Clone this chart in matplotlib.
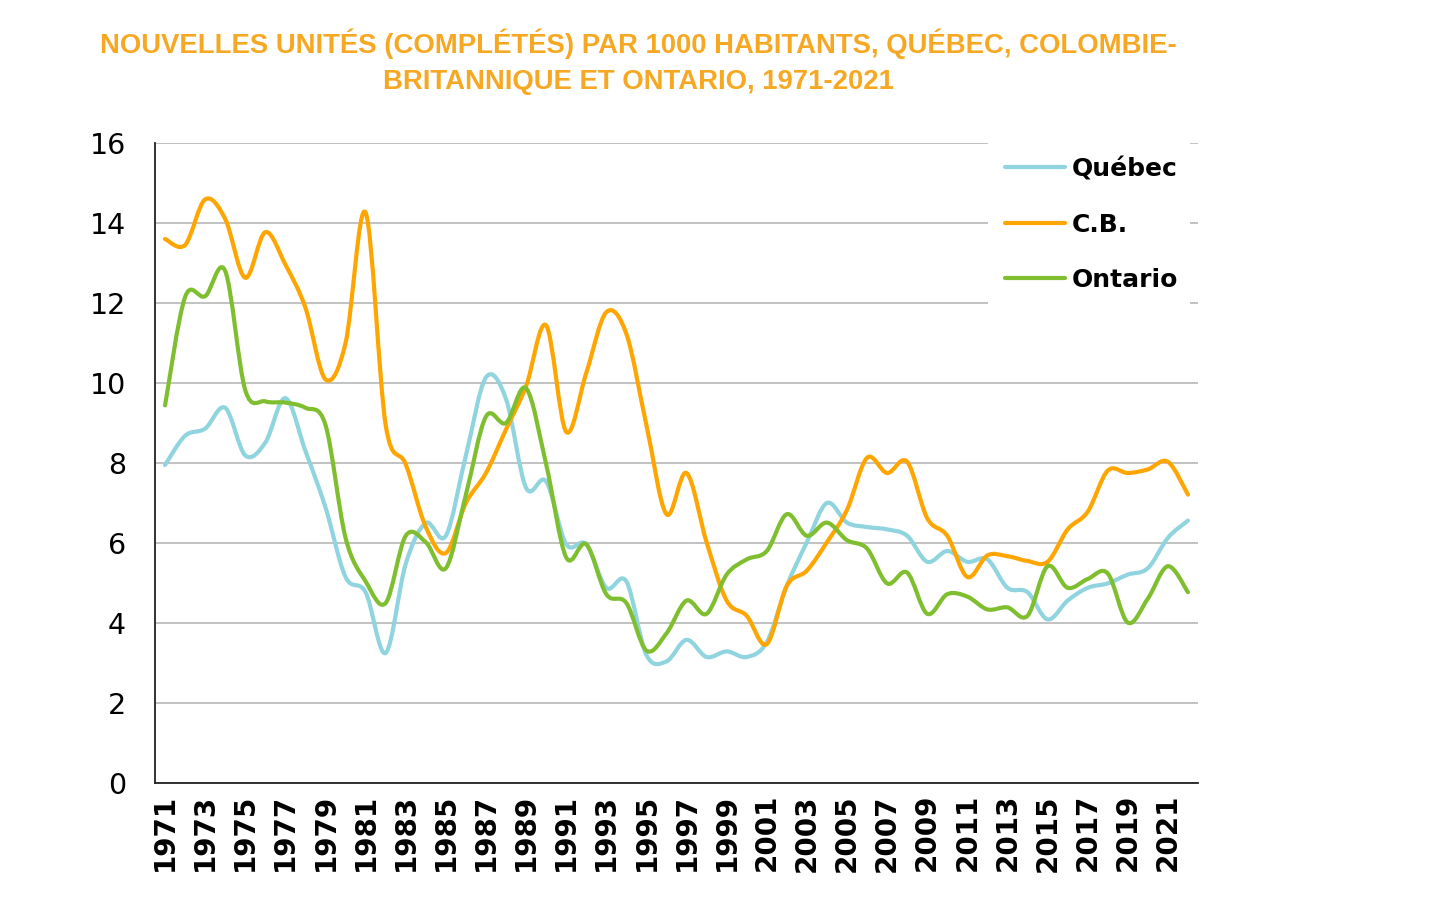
import numpy as np
import matplotlib
matplotlib.use("Agg")
import matplotlib.pyplot as plt
from matplotlib.path import Path
from matplotlib.patches import PathPatch, Rectangle
from matplotlib.lines import Line2D

years = list(range(1971, 2023))

quebec = [7.95, 8.68, 8.86, 9.38, 8.19, 8.51, 9.62, 8.3, 6.89, 5.15,
          4.77, 3.25, 5.48, 6.5, 6.18, 8.19, 10.14, 9.6, 7.38, 7.54,
          5.97, 5.97, 4.88, 5.04, 3.2, 3.04, 3.58, 3.15, 3.29, 3.15,
          3.52, 4.93, 6.02, 7.0, 6.51, 6.4, 6.34, 6.18, 5.53, 5.8,
          5.53, 5.59, 4.88, 4.77, 4.09, 4.56, 4.88, 4.99, 5.21, 5.37,
          6.13, 6.56]

cb = [13.6, 13.45, 14.59, 14.1, 12.63, 13.77, 12.96, 11.88, 10.09, 11.0,
      14.26, 8.95, 7.97, 6.4, 5.75, 7.0, 7.75, 8.84, 9.92, 11.44,
      8.78, 10.25, 11.77, 11.23, 8.95, 6.72, 7.75, 6.02, 4.56, 4.18,
      3.47, 4.93, 5.31, 6.02, 6.83, 8.13, 7.75, 8.03, 6.62, 6.18,
      5.15, 5.69, 5.67, 5.55, 5.53, 6.34, 6.78, 7.81, 7.75, 7.84,
      8.03, 7.21]

ontario = [9.44, 12.15, 12.17, 12.8, 9.82, 9.54, 9.51, 9.38, 8.95, 6.13,
           5.04, 4.5, 6.18, 6.02, 5.37, 7.21, 9.16, 9.0, 9.87, 7.97,
           5.64, 5.97, 4.72, 4.5, 3.31, 3.74, 4.56, 4.23, 5.21, 5.59,
           5.8, 6.72, 6.18, 6.51, 6.07, 5.86, 4.99, 5.26, 4.23, 4.72,
           4.66, 4.34, 4.39, 4.18, 5.42, 4.88, 5.1, 5.24, 4.01, 4.61,
           5.42, 4.77]

series = [("Québec", quebec, "#8fd4df"),
          ("C.B.", cb, "#ffa500"),
          ("Ontario", ontario, "#7fbf2f")]


def smooth_path(x, y):
    # Excel-like smoothing: Catmull-Rom segments as cubic Beziers
    pts = np.column_stack([np.asarray(x, float), np.asarray(y, float)])
    n = len(pts)
    verts = [pts[0]]
    codes = [Path.MOVETO]
    for i in range(n - 1):
        p0 = pts[i - 1] if i > 0 else pts[i]
        p1 = pts[i]
        p2 = pts[i + 1]
        p3 = pts[i + 2] if i + 2 < n else pts[i + 1]
        verts += [p1 + (p2 - p0) / 6.0, p2 - (p3 - p1) / 6.0, p2]
        codes += [Path.CURVE4] * 3
    return Path(verts, codes)


plt.rcParams['font.family'] = ['DejaVu Sans']

fig = plt.figure(figsize=(14.56, 9.01), dpi=100)
ax = fig.add_axes([155 / 1456, 1 - 783 / 901, (1198 - 155) / 1456, (783 - 143) / 901])

for name, vals, color in series:
    patch = PathPatch(smooth_path(years, vals), facecolor='none', edgecolor=color,
                      lw=3.0, capstyle='round', joinstyle='round', zorder=3)
    ax.add_patch(patch)

ax.set_xlim(1970.5, 2022.5)
ax.set_ylim(0, 16)
ax.set_yticks(range(0, 17, 2))
ax.set_xticks(years[::2])
ax.set_xticklabels([str(y) for y in years[::2]], rotation=90, fontsize=20, fontweight='bold')
ax.tick_params(axis='y', labelsize=20.5, length=0, pad=21)
ax.tick_params(axis='x', length=0, pad=8)
ax.grid(axis='y', color='#bdbdbd', lw=1.3, zorder=1)
ax.set_axisbelow(True)
for s in ['top', 'right']:
    ax.spines[s].set_visible(False)
for s in ['left', 'bottom']:
    ax.spines[s].set_color('#222222')
    ax.spines[s].set_linewidth(1.3)

# white box behind the legend hides the grid there
ax.add_patch(Rectangle((0.7987, 0.743), 0.1936, 0.262, transform=ax.transAxes,
                       facecolor='white', edgecolor='none', zorder=2, clip_on=False))

handles = [Line2D([], [], color=c, lw=3.0, solid_capstyle='round') for _, _, c in series]
leg = ax.legend(handles, [n for n, _, _ in series], loc='upper left',
                bbox_to_anchor=(0.796, 1.009), frameon=False,
                prop={'size': 18, 'weight': 'bold'}, handlelength=2.4,
                handletextpad=0.25, labelspacing=1.26, borderpad=0.3)
leg.set_zorder(5)

title_kw = dict(ha='center', va='center', color='#f7a823', fontsize=19.8,
                fontweight='bold', family=['Liberation Sans', 'DejaVu Sans'])
fig.text(638 / 1456, 1 - 44 / 901,
         "NOUVELLES UNITÉS (COMPLÉTÉS) PAR 1000 HABITANTS, QUÉBEC, COLOMBIE-", **title_kw)
fig.text(638 / 1456, 1 - 82 / 901, "BRITANNIQUE ET ONTARIO, 1971-2021", **title_kw)

fig.savefig("out.png", dpi=100)
